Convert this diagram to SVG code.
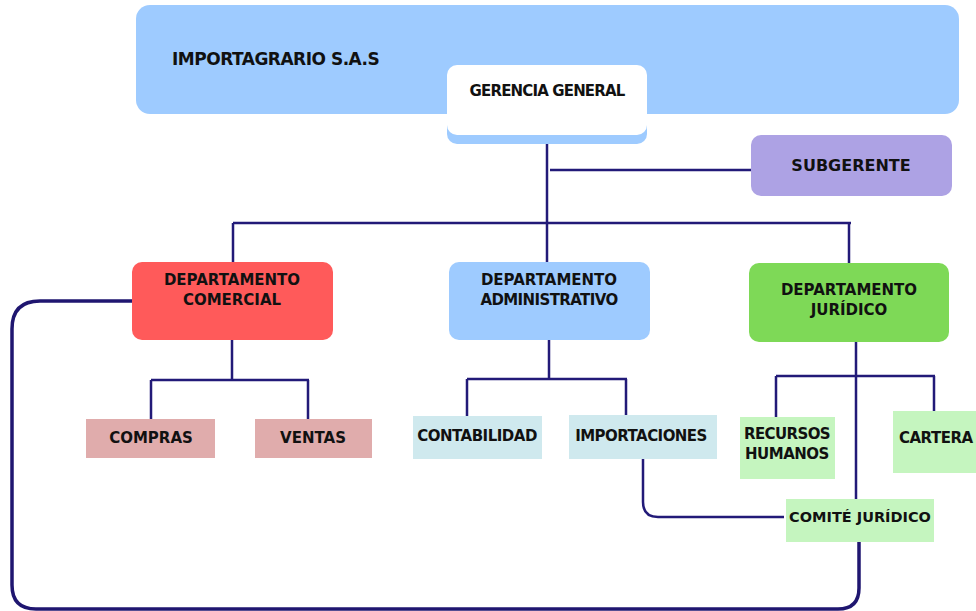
<svg xmlns="http://www.w3.org/2000/svg" width="976" height="611" viewBox="0 0 976 611">
<style>
  .t { font-family: "DejaVu Sans", "Liberation Sans", sans-serif; font-weight: bold; font-size: 14.5px; fill: #111; text-anchor: middle; }
  .d { font-size: 15px; }
  .c { fill: none; stroke: #221a78; stroke-width: 2.5; }
  .cb { fill: none; stroke: #1f1670; stroke-width: 3.5; }
</style>
<rect width="976" height="611" fill="#ffffff"/>
<g id="banner">
  <rect x="136" y="5" width="823" height="109" rx="14" fill="#9ecbff"/>
  <text class="t" x="172" y="65" style="text-anchor:start;font-size:17px" letter-spacing="-0.5">IMPORTAGRARIO S.A.S</text>
</g>
<g id="connectors">
  <path class="c" d="M547 144 V262"/>
  <path class="c" d="M550 170 H751"/>
  <path class="c" d="M233 223 H851 M233 223 V262 M849 223 V263"/>
  <path class="c" d="M232 340 V380 M151 380 H309 M151 380 V419 M308 380 V419"/>
  <path class="c" d="M549 340 V379 M467 379 H627 M467 379 V416 M626 379 V415"/>
  <path class="c" d="M856 342 V499 M776 376 H935 M776 376 V417 M934 376 V411"/>
  <path class="c" d="M643 459 V502 Q643 517 658 517 H784"/>
  <path class="cb" d="M132 301 H40 Q12 301 12 329 V585 Q12 609 36 609 H838 Q859 609 859 588 V542"/>
</g>
<g id="gerencia">
  <rect x="447" y="74" width="200" height="70" rx="10" fill="#9ecbff"/>
  <rect x="447" y="65" width="200" height="70" rx="10" fill="#ffffff"/>
  <text class="t d" x="547" y="96" letter-spacing="-0.85">GERENCIA GENERAL</text>
</g>
<g id="subgerente">
  <rect x="751" y="135" width="201" height="61" rx="10" fill="#ada2e4"/>
  <text class="t" x="851" y="171" style="font-size:16px">SUBGERENTE</text>
</g>
<g id="dep-comercial">
  <rect x="132" y="262" width="201" height="78" rx="10" fill="#ff5a5a"/>
  <text class="t d" x="232" y="285">DEPARTAMENTO</text>
  <text class="t d" x="232" y="305">COMERCIAL</text>
</g>
<g id="dep-administrativo">
  <rect x="449" y="262" width="201" height="78" rx="10" fill="#9ecbff"/>
  <text class="t d" x="549" y="285">DEPARTAMENTO</text>
  <text class="t d" x="549" y="305" letter-spacing="-0.6">ADMINISTRATIVO</text>
</g>
<g id="dep-juridico">
  <rect x="749" y="263" width="200" height="79" rx="10" fill="#7ed957"/>
  <text class="t d" x="849" y="295">DEPARTAMENTO</text>
  <text class="t d" x="849" y="315">JURÍDICO</text>
</g>
<g id="compras">
  <rect x="86" y="419" width="129" height="39" fill="#e0acac"/>
  <text class="t d" x="151" y="443">COMPRAS</text>
</g>
<g id="ventas">
  <rect x="255" y="419" width="117" height="39" fill="#e0acac"/>
  <text class="t d" x="313" y="443">VENTAS</text>
</g>
<g id="contabilidad">
  <rect x="413" y="416" width="129" height="43" fill="#cfe9ee"/>
  <text class="t d" x="477" y="441" letter-spacing="-0.5">CONTABILIDAD</text>
</g>
<g id="importaciones">
  <rect x="569" y="415" width="148" height="44" fill="#cfe9ee"/>
  <text class="t d" x="641" y="441" letter-spacing="-0.55">IMPORTACIONES</text>
</g>
<g id="recursos-humanos">
  <rect x="740" y="417" width="95" height="62" fill="#c5f5bf"/>
  <text class="t d" x="787" y="439" letter-spacing="-0.6">RECURSOS</text>
  <text class="t d" x="787" y="459" letter-spacing="-0.5">HUMANOS</text>
</g>
<g id="cartera">
  <rect x="893" y="411" width="100" height="62" fill="#c5f5bf"/>
  <text class="t d" x="899" y="443" style="text-anchor:start" letter-spacing="-0.5">CARTERA</text>
</g>
<g id="comite-juridico">
  <rect x="786" y="499" width="148" height="43" fill="#c5f5bf"/>
  <text class="t" x="860" y="522">COMITÉ JURÍDICO</text>
</g>
</svg>
